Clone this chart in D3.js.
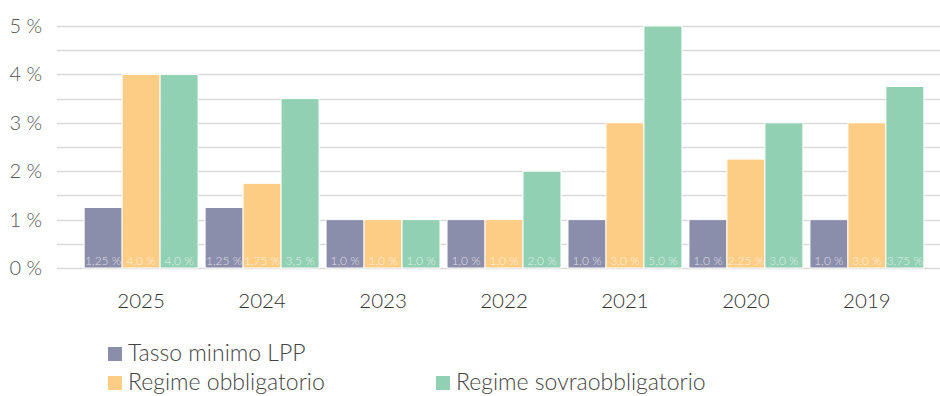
<!DOCTYPE html>
<html>
<head>
<meta charset="utf-8">
<script src="https://cdn.jsdelivr.net/npm/d3@7"></script>
<style>
  html, body { margin: 0; padding: 0; background: #fff; }
  svg { display: block; font-family: "Source Sans Pro", Lato, "Open Sans", sans-serif; font-weight: 300; }
</style>
</head>
<body>
<svg id="chart" width="940" height="396"></svg>
<script>
// Years shown on the x axis
const years = ["2025", "2024", "2023", "2022", "2021", "2020", "2019"];
// Interest rates (%) per series
const tassoMinimo = [1.25, 1.25, 1.0, 1.0, 1.0, 1.0, 1.0];
const obbligatorio = [4.0, 1.75, 1.0, 1.0, 3.0, 2.25, 3.0];
const sovraobbligatorio = [4.0, 3.5, 1.0, 2.0, 5.0, 3.0, 3.75];
// Value labels printed inside the bars
const labelsTasso = ["1,25 %", "1,25 %", "1,0 %", "1,0 %", "1,0 %", "1,0 %", "1,0 %"];
const labelsObbl = ["4,0 %", "1,75 %", "1,0 %", "1,0 %", "3,0 %", "2,25 %", "3,0 %"];
const labelsSovra = ["4,0 %", "3,5 %", "1,0 %", "2,0 %", "5,0 %", "3,0 %", "3,75 %"];
const seriesNames = ["Tasso minimo LPP", "Regime obbligatorio", "Regime sovraobbligatorio"];
const yTicks = [0, 1, 2, 3, 4, 5];
const yTickLabels = ["0 %", "1 %", "2 %", "3 %", "4 %", "5 %"];

const colors = ["#8a8eab", "#fecd85", "#92d0b3"];
const seriesValues = [tassoMinimo, obbligatorio, sovraobbligatorio];
const seriesLabels = [labelsTasso, labelsObbl, labelsSovra];

const svg = d3.select("#chart");

const x0 = d3.scaleBand().domain(years).range([80.5, 927.5]).paddingInner(0.058).paddingOuter(0.03);
const x1 = d3.scaleBand().domain(d3.range(3)).range([0, x0.bandwidth()]);
const y = d3.scaleLinear().domain([0, 5]).range([268, 26]);

// Horizontal grid lines every half percent
svg.append("g")
  .selectAll("line")
  .data(d3.range(0, 5.01, 0.5))
  .join("line")
  .attr("x1", 57).attr("x2", 940)
  .attr("y1", d => Math.round(y(d)) + 0.5).attr("y2", d => Math.round(y(d)) + 0.5)
  .attr("stroke", "#d9d9d9").attr("stroke-width", 1.3);

// Y axis labels
svg.append("g")
  .selectAll("text")
  .data(yTicks)
  .join("text")
  .attr("x", 42)
  .attr("y", d => y(d))
  .attr("dy", "0.35em")
  .attr("text-anchor", "end")
  .attr("fill", "#555")
  .attr("font-size", 20)
  .text((d, i) => yTickLabels[i]);

// Bars per year
const groups = svg.append("g")
  .selectAll("g")
  .data(years)
  .join("g")
  .attr("transform", d => `translate(${x0(d)},0)`);

groups.selectAll("rect")
  .data((d, i) => seriesValues.map((vals, s) => ({ s, v: vals[i] })))
  .join("rect")
  .attr("x", d => x1(d.s))
  .attr("width", x1.bandwidth())
  .attr("y", d => y(d.v))
  .attr("height", d => y(0) - y(d.v))
  .attr("fill", d => colors[d.s])
  .attr("stroke", "#fff")
  .attr("stroke-width", 1);

groups.selectAll("text.val")
  .data((d, i) => seriesValues.map((vals, s) => ({ s, label: seriesLabels[s][i] })))
  .join("text")
  .attr("class", "val")
  .attr("x", d => x1(d.s) + x1.bandwidth() / 2)
  .attr("y", 265)
  .attr("text-anchor", "middle")
  .attr("font-size", 12)
  .attr("fill", "#fff")
  .attr("fill-opacity", 0.72)
  .text(d => d.label);

// X axis labels
svg.append("g")
  .selectAll("text")
  .data(years)
  .join("text")
  .attr("x", d => x0(d) + x0.bandwidth() / 2)
  .attr("y", 308)
  .attr("text-anchor", "middle")
  .attr("fill", "#333")
  .attr("font-size", 20.5)
  .text(d => d);

// Legend
const legendPos = [[108, 361], [108, 390], [436, 390]];
const legend = svg.append("g")
  .selectAll("g")
  .data(seriesNames)
  .join("g")
  .attr("transform", (d, i) => `translate(${legendPos[i][0]},${legendPos[i][1]})`);
legend.append("rect")
  .attr("x", 0).attr("y", -14).attr("width", 14).attr("height", 14)
  .attr("fill", (d, i) => colors[i]);
legend.append("text")
  .attr("x", 20).attr("y", 0)
  .attr("fill", "#444").attr("font-size", 23)
  .text(d => d);
</script>
</body>
</html>
